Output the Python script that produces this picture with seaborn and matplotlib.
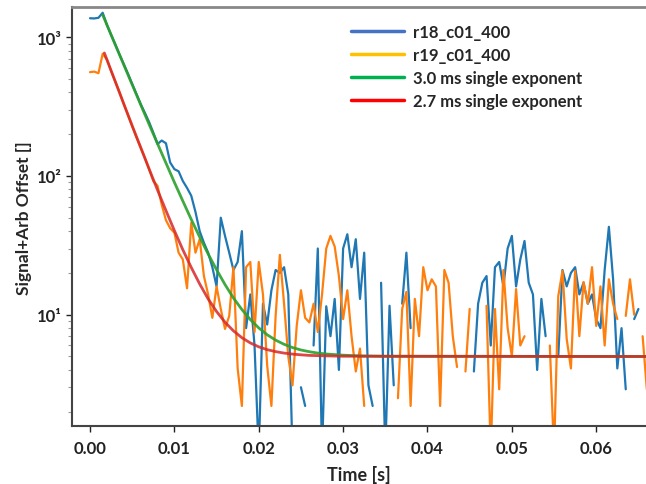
import numpy as np
import pandas as pd
import seaborn as sns
import matplotlib.pyplot as plt
from matplotlib.lines import Line2D

nan = np.nan

# sampling of the measured traces
t_start = 0.0
t_step = 0.0005

# r18_c01_400 (blue), 1.0 = drops below the axis, nan = gap
r18 = [1370, 1365, 1380, 1500, 1230, 1040, 885, 750, 640, 545,
       460, 390, 330, 285, 245, 205, 170, 180, 172, 125,
       112, 108, 92, 82, 72, 55, 40, 33, 28, 22,
       16, 50, 37, 28, 21, 24, 40, 8, 14, 6,
       1.0, 12, 8.5, 15, 21, 20, 22, 14, 1.0, nan,
       3.0, 2.2, nan, 6, 30, 1.0, 11.5, 7, 13, 4,
       30, 38, 22, 35, 13, 28, 3.1, 2.2, nan, 17,
       1.0, 11.6, 3.1, nan, 12, 28, 8, nan, nan, nan,
       nan, nan, nan, nan, nan, nan, nan, nan, nan, nan,
       nan, 3.9, 12, 17, 19, 6, 22, 24, 16, 30,
       37, 16, 25, 34, 17, 14, 4.0, 13, 7, nan,
       nan, 5.0, 21, 16, 20, 22, 14, 17, 12, 14,
       9.3, 8, 21, 43, 18, 4.1, 8, 2.9, nan, 9.3,
       11, nan, nan]

# r19_c01_400 (orange)
r19 = [560, 565, 550, 760, 690, 570, 478, 400, 330, 275,
       228, 190, 160, 135, 112, 92, 85, 62, 48, 42,
       39, 28, 25, 15.5, 46, 28, 35, 19, 14, 9.5,
       16, 11, 7.9, 9.8, 22, 4.1, 2.2, 22, 24, 7.5,
       24, 14, 4.3, 2.2, 9.8, 27, 12, 5.0, 3.1, 8.3,
       15, 9.5, 8.8, 12, 7.5, 14, 30, 37, 31, 19,
       9.3, 15, 7, 3.9, 5.7, 2.2, nan, nan, nan, nan,
       nan, nan, nan, 2.5, 11, 14.6, 2.2, 13, 7, 22,
       15, 18, 16, 2.2, 21, 17, 7, 4.2, nan, 3.9,
       11, nan, nan, nan, 11.6, 1.0, 11, 2.9, 21, 8,
       5, 15.3, 6, 7, nan, nan, nan, nan, nan, 6,
       1.0, 13.6, 20.7, 6.7, 4.1, 20.7, 7, 17.2, 12, 22,
       8.3, 16, 6, 18, 12, 9.3, nan, 9.8, 18, 10,
       nan, 7, 2.9]

# 3.0 ms single exponent (green)
fit30_t = [0.0015, 0.002, 0.003, 0.004, 0.005, 0.006, 0.007, 0.008, 0.009, 0.010,
           0.011, 0.012, 0.013, 0.014, 0.015, 0.016, 0.017, 0.018, 0.019, 0.020,
           0.021, 0.022, 0.023, 0.024, 0.025, 0.026, 0.027, 0.028, 0.030, 0.032,
           0.035, 0.066]
fit30 = [1450, 1228, 881, 633, 455, 327, 236, 171, 124, 90,
         66, 48.6, 36.3, 27.4, 21.1, 16.5, 13.2, 10.9, 9.23, 8.03,
         7.17, 6.56, 6.12, 5.80, 5.57, 5.41, 5.29, 5.21, 5.11, 5.05,
         5.02, 5.0]

# 2.7 ms single exponent (red)
fit27_t = [0.0017, 0.002, 0.003, 0.004, 0.005, 0.006, 0.007, 0.008, 0.009, 0.010,
           0.011, 0.012, 0.013, 0.014, 0.015, 0.016, 0.017, 0.018, 0.019, 0.020,
           0.021, 0.022, 0.023, 0.024, 0.025, 0.026, 0.028, 0.030, 0.066]
fit27 = [770, 690, 478, 331, 230, 161, 112.5, 79.2, 56.3, 40.4,
         29.4, 21.9, 16.65, 13.0, 10.55, 8.83, 7.65, 6.83, 6.26, 5.87,
         5.60, 5.42, 5.29, 5.20, 5.14, 5.09, 5.05, 5.02, 5.0]

legend_labels = ["r18_c01_400", "r19_c01_400",
                 "3.0 ms single exponent", "2.7 ms single exponent"]
legend_colors = ["#4472C4", "#FFC000", "#00B050", "#FF0000"]

sns.set_style("ticks")
plt.rcParams['font.family'] = ['Lato', 'DejaVu Sans']
plt.rcParams['font.weight'] = 'bold'

fig = plt.figure(figsize=(6.46, 4.85), dpi=100)
ax = fig.add_axes([0.111, 0.119, 0.889, 0.864])

t = t_start + t_step * np.arange(len(r18))
df18 = pd.DataFrame({'t': t, 'v': r18})
t = t_start + t_step * np.arange(len(r19))
df19 = pd.DataFrame({'t': t, 'v': r19})

# draw each continuous run of samples so that gaps stay open
def draw_trace(df, color):
    ok = df['v'].notna()
    grp = (~ok).cumsum()
    for _, seg in df[ok].groupby(grp[ok]):
        if len(seg) > 1:
            sns.lineplot(data=seg, x='t', y='v', color=color, lw=1.6,
                         estimator=None, sort=False, ax=ax)

draw_trace(df18, '#1f77b4')
draw_trace(df19, '#ff7f0e')
sns.lineplot(x=fit30_t, y=fit30, color='#2ca02c', lw=2.0, alpha=0.9,
             estimator=None, sort=False, ax=ax)
sns.lineplot(x=fit27_t, y=fit27, color='#d62728', lw=2.0, alpha=0.85,
             estimator=None, sort=False, ax=ax)

ax.set_yscale('log')
ax.set_xlim(-0.00217, 0.0659)
ax.set_ylim(1.57, 1644)

ax.set_xticks([0.00, 0.01, 0.02, 0.03, 0.04, 0.05, 0.06])
ax.set_xticklabels(['0.00', '0.01', '0.02', '0.03', '0.04', '0.05', '0.06'])
ax.set_yticks([10, 100, 1000])
ax.set_yticklabels(['10¹', '10²', '10³'])
ax.tick_params(axis='both', which='major', labelsize=12, colors='#222222',
               length=4, width=1, direction='out')
ax.tick_params(axis='x', which='major', pad=6)
ax.tick_params(axis='y', which='minor', left=True, length=3, width=0.8, color='#999999')
for lab in ax.get_xticklabels() + ax.get_yticklabels():
    lab.set_fontweight('bold')

ax.set_xlabel('Time [s]', fontsize=13, fontweight='bold', labelpad=6)
ax.set_ylabel('Signal+Arb Offset []', fontsize=12.5, fontweight='bold', labelpad=3)

for s in ['left', 'bottom']:
    ax.spines[s].set_color('#444444')
    ax.spines[s].set_linewidth(1.5)
ax.spines['top'].set_color('#888888')
ax.spines['top'].set_linewidth(2)
ax.spines['right'].set_visible(False)

handles = [Line2D([0], [0], color=c, lw=2.5) for c in legend_colors]
ax.legend(handles, legend_labels, loc='upper left',
          bbox_to_anchor=(351 / 646, 1 - 25 / 485), bbox_transform=fig.transFigure,
          frameon=False, handlelength=3.2, handletextpad=0.55,
          labelspacing=0.42, borderpad=0, borderaxespad=0,
          prop={'weight': 'bold', 'size': 12})

fig.savefig('out.png', dpi=100)
